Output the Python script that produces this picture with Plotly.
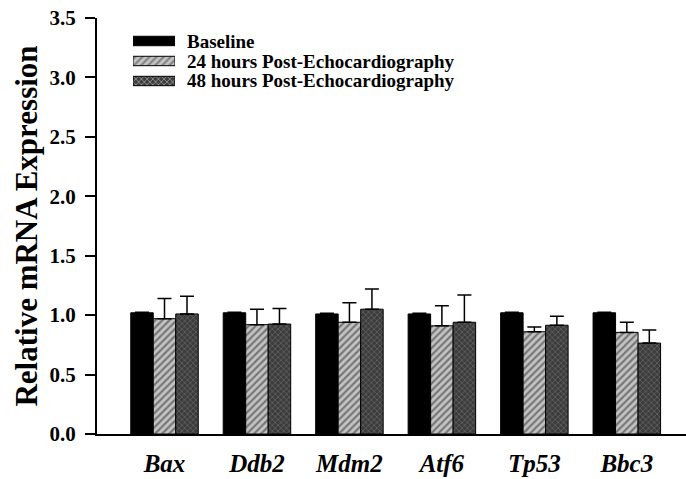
import plotly.graph_objects as go

genes = ["Bax", "Ddb2", "Mdm2", "Atf6", "Tp53", "Bbc3"]
series_names = ["Baseline", "24 hours Post-Echocardiography", "48 hours Post-Echocardiography"]
baseline = [1.02, 1.02, 1.01, 1.01, 1.02, 1.02]
baseline_err = [0.005, 0.005, 0.005, 0.005, 0.005, 0.005]
h24 = [0.97, 0.92, 0.94, 0.91, 0.86, 0.855]
h24_err = [0.17, 0.13, 0.165, 0.17, 0.04, 0.085]
h48 = [1.01, 0.925, 1.05, 0.94, 0.915, 0.765]
h48_err = [0.15, 0.13, 0.17, 0.23, 0.076, 0.11]
y_ticks = [0.0, 0.5, 1.0, 1.5, 2.0, 2.5, 3.0, 3.5]

FONT = "Liberation Serif"
values = [baseline, h24, h48]
errors = [baseline_err, h24_err, h48_err]
fills = ["#000000", "#c4c4c4", "#3c3c3c"]
shapes = ["", "/", "x"]
fgs = ["#000000", "#2a2a2a", "#8a8a8a"]
sizes = [6, 5, 4]
solid = [0.3, 0.45, 0.35]

fig = go.Figure()
for name, v, e, fc, sh, fg, sz, so in zip(series_names, values, errors, fills, shapes, fgs, sizes, solid):
    fig.add_trace(go.Bar(
        x=genes, y=v, name=name, showlegend=False,
        marker=dict(color=fc, line=dict(color="black", width=1),
                    pattern=dict(shape=sh, fgcolor=fg, bgcolor=fc, size=sz, solidity=so)),
        error_y=dict(type="data", array=e, arrayminus=[0] * len(e), symmetric=False,
                     color="black", thickness=1.5, width=7),
    ))

# legend swatches as wide patterned bars on a small helper axis
fig.add_trace(go.Bar(
    x=[1, 1, 1], y=[0, 1, 2], orientation="h", width=0.47,
    xaxis="x2", yaxis="y2", showlegend=False, hoverinfo="skip",
    marker=dict(color=fills, line=dict(color="black", width=1),
                pattern=dict(shape=shapes, fgcolor=fgs, bgcolor=fills, size=sizes, solidity=solid)),
))

for i, name in enumerate(series_names):
    fig.add_annotation(x=0.1494, y=[0.9447, 0.8954, 0.8486][i], xref="paper", yref="paper",
                       text=name, showarrow=False, xanchor="left", yanchor="middle",
                       font=dict(family=FONT, size=19, color="black", weight="bold"))

fig.update_layout(
    width=686, height=479,
    margin=dict(l=97, r=0, t=18, b=45),
    plot_bgcolor="white", paper_bgcolor="white",
    barmode="group", bargap=0.27, bargroupgap=0,
    xaxis=dict(range=[-0.73, 5.64], showline=True, linecolor="black", linewidth=2,
               ticks="", showgrid=False, zeroline=False, ticklabelstandoff=6, automargin=False,
               tickfont=dict(family=FONT, size=25, color="black", style="italic", weight="bold")),
    yaxis=dict(range=[0, 3.5], tickvals=y_ticks, tickformat=".1f", showline=True,
               linecolor="black", linewidth=2, ticks="outside", ticklen=10, tickwidth=1.5,
               tickcolor="black", showgrid=False, zeroline=False, ticklabelstandoff=5,
               automargin=False,
               tickfont=dict(family=FONT, size=21, color="black", weight="bold"),
               title=dict(text="Relative mRNA Expression", standoff=3,
                          font=dict(family=FONT, size=31, color="black", weight="bold"))),
    xaxis2=dict(domain=[0.0611, 0.1324], range=[0, 1], visible=False, anchor="y2"),
    yaxis2=dict(domain=[0.8245, 0.9688], range=[2.5, -0.5], visible=False, anchor="x2"),
)

fig.write_html("out.html")
